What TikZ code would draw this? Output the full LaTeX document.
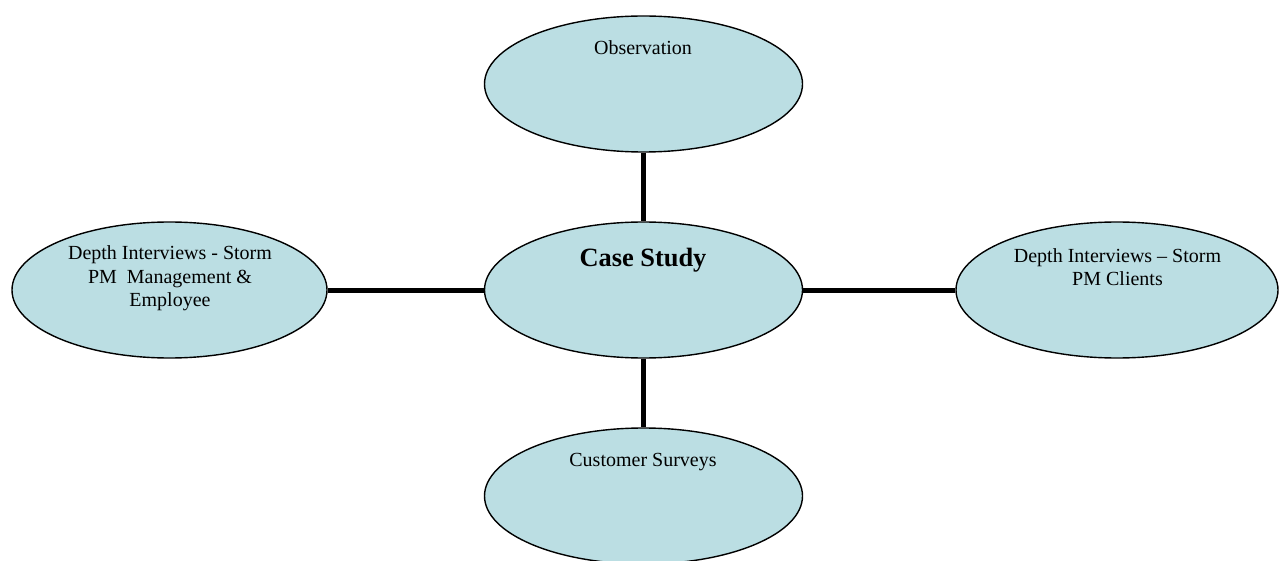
\documentclass[tikz,border=0pt]{standalone}
\usepackage{fontspec}
\setmainfont{Liberation Serif}
\usetikzlibrary{shapes.geometric}
\definecolor{bubble}{RGB}{187,222,227}
\begin{document}
\begin{tikzpicture}[x=1pt,y=-1pt,
  bubble/.style={ellipse,draw=black,line width=1.4pt,fill=bubble,inner sep=0pt,
    minimum width=318pt,minimum height=136pt},
  txt/.style={align=center,font=\fontsize{20}{23.5}\selectfont,inner sep=0pt},
  big/.style={align=center,font=\fontsize{26.4}{30}\selectfont\bfseries,inner sep=0pt},
  link/.style={line width=5pt,draw=black}]
\useasboundingbox (0,0) rectangle (1279,561);
\node[bubble] (obs) at (643.5,84) {};
\node[bubble] (case) at (643.5,290) {};
\node[bubble,minimum width=315pt] (left) at (169.5,290) {};
\node[bubble,minimum width=322pt] (right) at (1117,290) {};
\node[bubble] (surv) at (643.5,496) {};
\draw[link] (obs.south) -- (case.north);
\draw[link] (case.south) -- (surv.north);
\draw[link] (left.east) -- (case.west);
\draw[link] (case.east) -- (right.west);
\node[txt] (tobs) at (643,48) {Observation};
\node[big] (tcase) at (643,260) {Case Study};
\node[txt] (tleft) at (170,278.5) {Depth Interviews - Storm\\PM~~Management \&\\Employee};
\node[txt] (tright) at (1117.5,267) {Depth Interviews – Storm\\PM Clients};
\node[txt] (tsurv) at (643,462) {Customer Surveys};
\end{tikzpicture}
\end{document}
